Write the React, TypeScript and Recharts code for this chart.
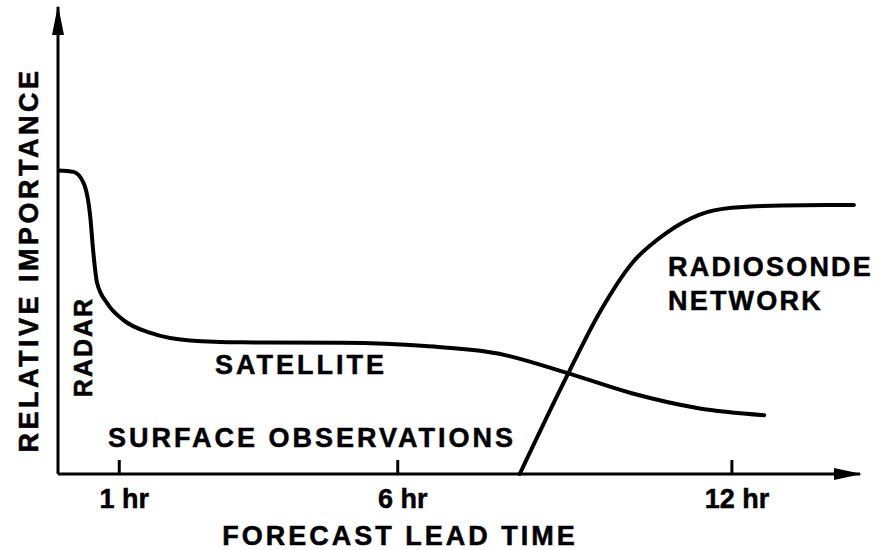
import { LineChart, Line, XAxis, YAxis } from "recharts";

// Forecast lead time in hours, relative importance 0-100
const radarSatelliteHours = [-0.1, 0.18, 0.36, 0.48, 0.53, 0.6, 0.78, 1.07, 1.56, 2.27, 3.2, 5.0, 6.5, 7.8, 9.05, 10.2, 11.4, 12.58];
const radarSatelliteValues = [65, 64.7, 62.3, 55, 48, 41, 36.6, 33, 30.2, 28.6, 28.2, 28.1, 27.4, 25.8, 21.6, 17.3, 14.1, 12.6];

const radiosondeHours = [8.19, 9.03, 9.62, 10.21, 10.82, 11.41, 12.0, 12.9, 14.19];
const radiosondeValues = [0, 20.8, 34.5, 45.2, 51.6, 55.5, 57.0, 57.5, 57.6];

const tickHours = [1, 6, 12];
const tickLabels = ["1 hr", "6 hr", "12 hr"];

const WIDTH = 883;
const HEIGHT = 550;
const AXIS_LEFT = 58;
const AXIS_BOTTOM = 76;
const margin = { top: 7, right: 23, bottom: 0, left: 0 };
const FONT = "'Liberation Sans', Arial, Helvetica, sans-serif";

const radarSatellite = radarSatelliteHours.map((hour, i) => ({ hour, value: radarSatelliteValues[i] }));
const radiosonde = radiosondeHours.map((hour, i) => ({ hour, value: radiosondeValues[i] }));

function HourTick(props: any) {
  const { x, y, payload } = props;
  const label = tickLabels[tickHours.indexOf(payload.value)];
  return (
    <g>
      <line x1={x} y1={y} x2={x} y2={y - 14} stroke="#000" strokeWidth={3} />
      <text
        x={x + 5}
        y={y + 34}
        textAnchor="middle"
        fontFamily={FONT}
        fontWeight="bold"
        fontSize={27}
        fill="#000"
        stroke="#000"
        strokeWidth={0.5}
      >
        {label}
      </text>
    </g>
  );
}

const labelStyle = {
  fontFamily: FONT,
  fontWeight: "bold" as const,
  fontSize: 27,
  letterSpacing: 3,
  fill: "#000",
  stroke: "#000",
  strokeWidth: 0.5,
};

export default function App() {
  const axisY = HEIGHT - AXIS_BOTTOM;
  const axisX = AXIS_LEFT;
  const axisEnd = WIDTH - margin.right;

  return (
    <div style={{ position: "absolute", left: 0, top: 0, width: WIDTH, height: HEIGHT, background: "#fff" }}>
      <LineChart width={WIDTH} height={HEIGHT} margin={margin}>
        <XAxis
          type="number"
          dataKey="hour"
          domain={[-0.1, 14.3]}
          ticks={tickHours}
          allowDataOverflow
          tickLine={false}
          tickSize={0}
          tickMargin={0}
          tick={<HourTick />}
          axisLine={{ stroke: "#000", strokeWidth: 3 }}
          height={AXIS_BOTTOM}
        />
        <YAxis
          type="number"
          dataKey="value"
          domain={[0, 100]}
          tick={false}
          tickLine={false}
          axisLine={{ stroke: "#000", strokeWidth: 3 }}
          width={AXIS_LEFT}
        />
        <Line
          data={radarSatellite}
          dataKey="value"
          type="monotone"
          stroke="#000"
          strokeWidth={4}
          strokeLinecap="round"
          dot={false}
          isAnimationActive={false}
        />
        <Line
          data={radiosonde}
          dataKey="value"
          type="monotone"
          stroke="#000"
          strokeWidth={4}
          strokeLinecap="round"
          dot={false}
          isAnimationActive={false}
        />
      </LineChart>
      <svg
        width={WIDTH}
        height={HEIGHT}
        style={{ position: "absolute", left: 0, top: 0, pointerEvents: "none" }}
      >
        {/* axis arrowheads */}
        <polygon points={`${axisX},${margin.top - 2} ${axisX - 6},${margin.top + 28} ${axisX + 6},${margin.top + 28}`} fill="#000" />
        <polygon points={`${axisEnd + 2},${axisY} ${axisEnd - 26},${axisY - 6} ${axisEnd - 26},${axisY + 6}`} fill="#000" />

        <text x={38} y={260} textAnchor="middle" transform="rotate(-90 38 260)" style={{ ...labelStyle, letterSpacing: 3.5 }}>
          RELATIVE IMPORTANCE
        </text>
        <text x={92} y={347} textAnchor="middle" transform="rotate(-90 92 347)" style={{ ...labelStyle, fontSize: 25, letterSpacing: 2 }}>
          RADAR
        </text>
        <text x={215} y={374} style={labelStyle}>SATELLITE</text>
        <text x={108} y={447} style={labelStyle}>SURFACE OBSERVATIONS</text>
        <text x={668} y={276} style={{ ...labelStyle, letterSpacing: 2.2 }}>RADIOSONDE</text>
        <text x={668} y={310} style={{ ...labelStyle, letterSpacing: 2.2 }}>NETWORK</text>
        <text x={400} y={545} textAnchor="middle" style={labelStyle}>FORECAST LEAD TIME</text>
      </svg>
    </div>
  );
}
